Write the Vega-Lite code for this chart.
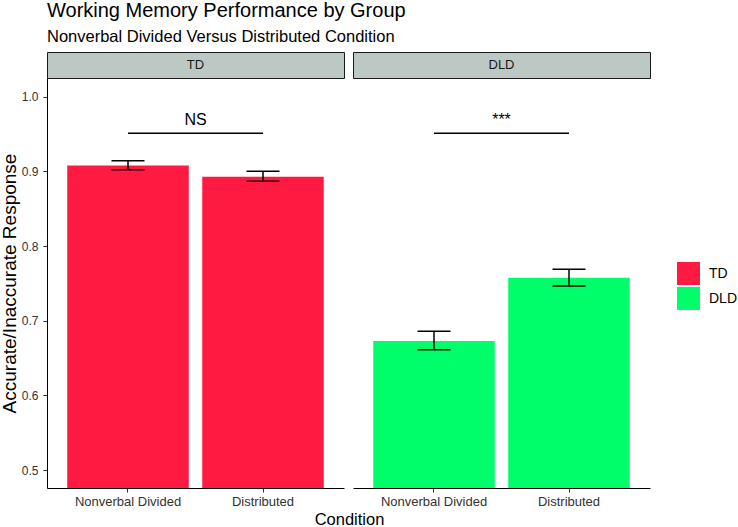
{
  "$schema": "https://vega.github.io/schema/vega-lite/v6.json",
  "padding": {"left": 0, "top": 1, "right": 0, "bottom": 0},
  "background": "white",
  "title": {
    "text": "Working Memory Performance by Group",
    "subtitle": "Nonverbal Divided Versus Distributed Condition",
    "anchor": "start",
    "frame": "group",
    "font": "Liberation Sans",
    "fontSize": 20,
    "fontWeight": "normal",
    "color": "black",
    "subtitleFont": "Liberation Sans",
    "subtitleFontSize": 16.5,
    "subtitleColor": "black",
    "subtitlePadding": 8,
    "offset": 6
  },
  "datasets": {
    "bars": [
      {"group": "TD", "cond": "Nonverbal Divided", "value": 0.9077, "lo": 0.9022, "hi": 0.9142},
      {"group": "TD", "cond": "Distributed", "value": 0.8928, "lo": 0.8866, "hi": 0.9000},
      {"group": "DLD", "cond": "Nonverbal Divided", "value": 0.6728, "lo": 0.6612, "hi": 0.6857},
      {"group": "DLD", "cond": "Distributed", "value": 0.7576, "lo": 0.7465, "hi": 0.7687}
    ],
    "strips": [{"group": "TD"}, {"group": "DLD"}],
    "sig": [
      {"group": "TD", "from": "Nonverbal Divided", "to": "Distributed", "y": 0.951, "ty": 0.969, "label": "NS"},
      {"group": "DLD", "from": "Nonverbal Divided", "to": "Distributed", "y": 0.951, "ty": 0.969, "label": "***"}
    ]
  },
  "columns": 2,
  "spacing": {"row": 0, "column": 9},
  "bounds": "flush",
  "resolve": {"scale": {"color": "shared"}, "legend": {"color": "shared"}},
  "concat": [
    {
      "width": 297, "height": 26,
      "view": {"fill": "#bcc8c4", "stroke": "#1a1a1a", "strokeWidth": 1},
      "data": {"name": "strips"},
      "transform": [{"filter": "datum.group === 'TD'"}],
      "mark": {"type": "text", "font": "Liberation Sans", "fontSize": 13, "color": "#1a1a1a"},
      "encoding": {
        "x": {"field": "group", "type": "nominal", "axis": null},
        "y": {"field": "group", "type": "nominal", "axis": null},
        "text": {"field": "group"}
      }
    },
    {
      "width": 297, "height": 26,
      "view": {"fill": "#bcc8c4", "stroke": "#1a1a1a", "strokeWidth": 1},
      "data": {"name": "strips"},
      "transform": [{"filter": "datum.group === 'DLD'"}],
      "mark": {"type": "text", "font": "Liberation Sans", "fontSize": 13, "color": "#1a1a1a"},
      "encoding": {
        "x": {"field": "group", "type": "nominal", "axis": null},
        "y": {"field": "group", "type": "nominal", "axis": null},
        "text": {"field": "group"}
      }
    },
    {
      "width": 297, "height": 410,
      "layer": [
        {
          "data": {"name": "bars"},
          "transform": [{"filter": "datum.group === 'TD'"}],
          "mark": {"type": "bar", "clip": true},
          "encoding": {
            "x": {"field": "cond", "type": "nominal", "scale": {"domain": ["Nonverbal Divided", "Distributed"], "paddingInner": 0.1, "paddingOuter": 0.15},
              "axis": {"title": "Condition", "titleX": 302, "titleFontSize": 16.5, "titleFontWeight": "normal", "titleColor": "black", "titleFont": "Liberation Sans", "titlePadding": 3,
                "labelAngle": 0, "labelFontSize": 13, "labelColor": "#333333", "labelFont": "Liberation Sans", "labelPadding": 3,
                "domainColor": "black", "domainWidth": 1, "tickColor": "#333333", "tickSize": 4, "grid": false}},
            "y": {"field": "value", "type": "quantitative", "scale": {"domain": [0.4759, 1.025], "zero": false, "nice": false},
              "axis": {"title": "Accurate/Inaccurate Response", "values": [0.5, 0.6, 0.7, 0.8, 0.9, 1.0], "format": ".1f",
                "titleFontSize": 19, "titleFontWeight": "normal", "titleColor": "black", "titleFont": "Liberation Sans", "titlePadding": 2,
                "labelFontSize": 12, "labelColor": "#333333", "labelFont": "Liberation Sans", "labelPadding": 5,
                "domainColor": "black", "domainWidth": 1, "tickColor": "#333333", "tickSize": 4, "grid": false}},
            "color": {"field": "group", "type": "nominal", "scale": {"domain": ["TD", "DLD"], "range": ["#fe1a40", "#00fe6a"]},
              "legend": {"title": null, "orient": "none", "legendX": 630, "legendY": 210, "symbolType": "square", "symbolSize": 529, "symbolStrokeWidth": 0, "symbolOpacity": 1,
                "labelFontSize": 14, "labelFont": "Liberation Sans", "labelColor": "black", "labelOffset": 9, "rowPadding": 2}}
          }
        },
        {
          "data": {"name": "bars"},
          "transform": [{"filter": "datum.group === 'TD'"}],
          "mark": {"type": "rule", "color": "black", "strokeWidth": 1.5},
          "encoding": {
            "x": {"field": "cond", "type": "nominal"},
            "y": {"field": "lo", "type": "quantitative"},
            "y2": {"field": "hi"}
          }
        },
        {
          "data": {"name": "bars"},
          "transform": [{"filter": "datum.group === 'TD'"}],
          "mark": {"type": "tick", "orient": "horizontal", "size": 33, "thickness": 1.5, "color": "black", "opacity": 1},
          "encoding": {"x": {"field": "cond", "type": "nominal"}, "y": {"field": "lo", "type": "quantitative"}}
        },
        {
          "data": {"name": "bars"},
          "transform": [{"filter": "datum.group === 'TD'"}],
          "mark": {"type": "tick", "orient": "horizontal", "size": 33, "thickness": 1.5, "color": "black", "opacity": 1},
          "encoding": {"x": {"field": "cond", "type": "nominal"}, "y": {"field": "hi", "type": "quantitative"}}
        },
        {
          "data": {"name": "sig"},
          "transform": [{"filter": "datum.group === 'TD'"}],
          "mark": {"type": "rule", "color": "black", "strokeWidth": 1.5},
          "encoding": {"x": {"field": "from", "type": "nominal"}, "x2": {"field": "to"}, "y": {"field": "y", "type": "quantitative"}}
        },
        {
          "data": {"name": "sig"},
          "transform": [{"filter": "datum.group === 'TD'"}],
          "mark": {"type": "text", "font": "Liberation Sans", "fontSize": 16, "color": "black", "baseline": "middle"},
          "encoding": {"x": {"field": "from", "type": "nominal", "bandPosition": 1.0556}, "y": {"field": "ty", "type": "quantitative"}, "text": {"field": "label"}}
        }
      ]
    },
    {
      "width": 297, "height": 410,
      "layer": [
        {
          "data": {"name": "bars"},
          "transform": [{"filter": "datum.group === 'DLD'"}],
          "mark": {"type": "bar", "clip": true},
          "encoding": {
            "x": {"field": "cond", "type": "nominal", "scale": {"domain": ["Nonverbal Divided", "Distributed"], "paddingInner": 0.1, "paddingOuter": 0.15},
              "axis": {"title": null,
                "labelAngle": 0, "labelFontSize": 13, "labelColor": "#333333", "labelFont": "Liberation Sans", "labelPadding": 3,
                "domainColor": "black", "domainWidth": 1, "tickColor": "#333333", "tickSize": 4, "grid": false}},
            "y": {"field": "value", "type": "quantitative", "scale": {"domain": [0.4759, 1.025], "zero": false, "nice": false}, "axis": null},
            "color": {"field": "group", "type": "nominal", "scale": {"domain": ["TD", "DLD"], "range": ["#fe1a40", "#00fe6a"]}}
          }
        },
        {
          "data": {"name": "bars"},
          "transform": [{"filter": "datum.group === 'DLD'"}],
          "mark": {"type": "rule", "color": "black", "strokeWidth": 1.5},
          "encoding": {
            "x": {"field": "cond", "type": "nominal"},
            "y": {"field": "lo", "type": "quantitative"},
            "y2": {"field": "hi"}
          }
        },
        {
          "data": {"name": "bars"},
          "transform": [{"filter": "datum.group === 'DLD'"}],
          "mark": {"type": "tick", "orient": "horizontal", "size": 33, "thickness": 1.5, "color": "black", "opacity": 1},
          "encoding": {"x": {"field": "cond", "type": "nominal"}, "y": {"field": "lo", "type": "quantitative"}}
        },
        {
          "data": {"name": "bars"},
          "transform": [{"filter": "datum.group === 'DLD'"}],
          "mark": {"type": "tick", "orient": "horizontal", "size": 33, "thickness": 1.5, "color": "black", "opacity": 1},
          "encoding": {"x": {"field": "cond", "type": "nominal"}, "y": {"field": "hi", "type": "quantitative"}}
        },
        {
          "data": {"name": "sig"},
          "transform": [{"filter": "datum.group === 'DLD'"}],
          "mark": {"type": "rule", "color": "black", "strokeWidth": 1.5},
          "encoding": {"x": {"field": "from", "type": "nominal"}, "x2": {"field": "to"}, "y": {"field": "y", "type": "quantitative"}}
        },
        {
          "data": {"name": "sig"},
          "transform": [{"filter": "datum.group === 'DLD'"}],
          "mark": {"type": "text", "font": "Liberation Sans", "fontSize": 16, "color": "black", "baseline": "middle"},
          "encoding": {"x": {"field": "from", "type": "nominal", "bandPosition": 1.0556}, "y": {"field": "ty", "type": "quantitative"}, "text": {"field": "label"}}
        }
      ]
    }
  ],
  "config": {
    "view": {"stroke": null},
    "font": "Liberation Sans",
    "axis": {"grid": false}
  }
}
